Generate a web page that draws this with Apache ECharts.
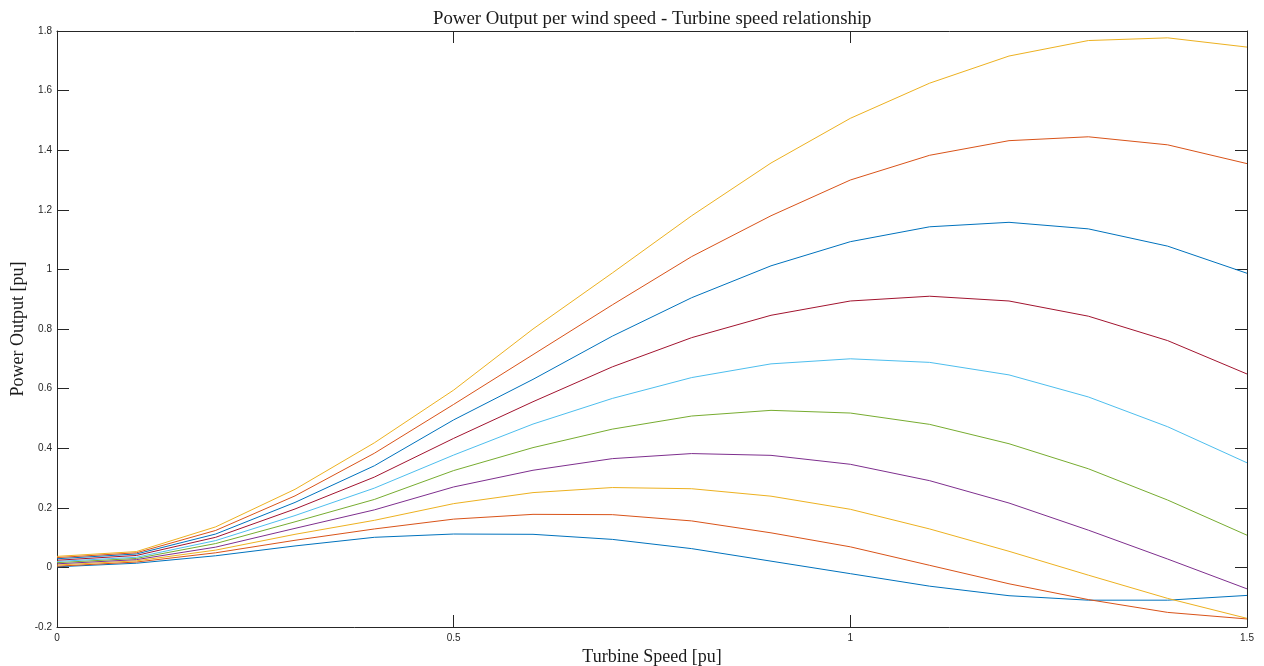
<!DOCTYPE html>
<html lang="en">
<head>
    <meta charset="UTF-8">
    <title>Power Output per wind speed</title>
    <script type="text/javascript" src="https://cdn.jsdelivr.net/npm/echarts@6/dist/echarts.min.js"></script>
    <style>
        html, body { margin: 0; padding: 0; background: #fff; }
        #chart { width: 1264px; height: 666px; }
    </style>
</head>
<body>
<div id="chart"></div>
<script type="text/javascript">
    // turbine speed (pu)
    var speeds = [0, 0.1, 0.2, 0.3, 0.4, 0.5, 0.6, 0.7, 0.8, 0.9, 1.0, 1.1, 1.2, 1.3, 1.4, 1.5];
    var yTicks = [-0.2, 0, 0.2, 0.4, 0.6, 0.8, 1, 1.2, 1.4, 1.6, 1.8];
    var xTicks = [0, 0.5, 1, 1.5];

    // power output (pu), one curve per wind speed, lowest first
    var p1 = [0.002, 0.014, 0.039, 0.072, 0.101, 0.112, 0.111, 0.094, 0.063, 0.021, -0.021, -0.063, -0.095, -0.110, -0.110, -0.094];
    var p2 = [0.004, 0.018, 0.049, 0.091, 0.129, 0.162, 0.178, 0.177, 0.156, 0.116, 0.069, 0.007, -0.055, -0.108, -0.151, -0.173];
    var p3 = [0.008, 0.022, 0.058, 0.111, 0.158, 0.214, 0.251, 0.268, 0.264, 0.239, 0.195, 0.129, 0.054, -0.026, -0.104, -0.171];
    var p4 = [0.012, 0.026, 0.068, 0.131, 0.193, 0.270, 0.326, 0.365, 0.382, 0.376, 0.346, 0.291, 0.216, 0.125, 0.028, -0.072];
    var p5 = [0.016, 0.030, 0.080, 0.153, 0.228, 0.325, 0.402, 0.464, 0.508, 0.527, 0.518, 0.480, 0.415, 0.331, 0.226, 0.108];
    var p6 = [0.020, 0.034, 0.090, 0.174, 0.266, 0.377, 0.481, 0.567, 0.637, 0.683, 0.700, 0.688, 0.646, 0.572, 0.472, 0.351];
    var p7 = [0.024, 0.040, 0.101, 0.196, 0.303, 0.433, 0.556, 0.673, 0.771, 0.846, 0.894, 0.910, 0.894, 0.843, 0.761, 0.649];
    var p8 = [0.029, 0.045, 0.112, 0.218, 0.341, 0.495, 0.631, 0.776, 0.905, 1.012, 1.093, 1.143, 1.158, 1.136, 1.078, 0.987];
    var p9 = [0.033, 0.049, 0.124, 0.240, 0.383, 0.547, 0.714, 0.881, 1.043, 1.180, 1.300, 1.383, 1.432, 1.445, 1.418, 1.355];
    var p10 = [0.037, 0.053, 0.136, 0.262, 0.418, 0.595, 0.800, 0.988, 1.180, 1.357, 1.507, 1.625, 1.716, 1.768, 1.777, 1.746];
    var curves = [p1, p2, p3, p4, p5, p6, p7, p8, p9, p10];

    var colors = ['#0072BD', '#D95319', '#EDB120', '#7E2F8E', '#77AC30', '#4DBEEE', '#A2142F'];

    var chart = echarts.init(document.getElementById('chart'));

    var series = curves.map(function (c, i) {
        return {
            type: 'line',
            xAxisIndex: 0,
            yAxisIndex: 0,
            showSymbol: false,
            animation: false,
            lineStyle: { width: 1, color: colors[i % colors.length] },
            data: speeds.map(function (s, k) { return [s, c[k]]; })
        };
    });

    var boxLine = { show: true, onZero: false, lineStyle: { color: '#262626', width: 1 } };
    var tickIn = { show: true, inside: true, length: 12, lineStyle: { color: '#262626', width: 1 } };
    var tickLabel = { color: '#262626', fontSize: 10, fontFamily: 'Liberation Sans, Arial, sans-serif' };
    var serifText = { fontFamily: 'Liberation Serif, serif', fontSize: 18, color: '#1a1a1a' };

    var option = {
        backgroundColor: '#ffffff',
        title: {
            text: 'Power Output per wind speed - Turbine speed relationship',
            left: 428,
            top: 5,
            textStyle: { fontFamily: 'Liberation Serif, serif', fontWeight: 'normal', fontSize: 18.8, color: '#1a1a1a' }
        },
        grid: { left: 57, right: 17, top: 31, bottom: 39, containLabel: false, outerBoundsMode: 'none' },
        xAxis: [{
            type: 'value',
            min: xTicks[0],
            max: xTicks[xTicks.length - 1],
            interval: 0.5,
            name: 'Turbine Speed [pu]',
            nameLocation: 'middle',
            nameGap: 21,
            nameMoveOverlap: false,
            nameTextStyle: serifText,
            axisLine: boxLine,
            axisTick: tickIn,
            axisLabel: Object.assign({ margin: 6 }, tickLabel),
            splitLine: { show: false }
        }, {
            type: 'value',
            position: 'top',
            min: xTicks[0],
            max: xTicks[xTicks.length - 1],
            interval: 0.5,
            axisLine: boxLine,
            axisTick: tickIn,
            axisLabel: { show: false },
            splitLine: { show: false }
        }],
        yAxis: [{
            type: 'value',
            min: yTicks[0],
            max: yTicks[yTicks.length - 1],
            interval: 0.2,
            name: 'Power Output [pu]',
            nameLocation: 'middle',
            nameGap: 30,
            nameMoveOverlap: false,
            nameTextStyle: serifText,
            axisLine: boxLine,
            axisTick: tickIn,
            axisLabel: Object.assign({ margin: 5 }, tickLabel),
            splitLine: { show: false }
        }, {
            type: 'value',
            position: 'right',
            min: yTicks[0],
            max: yTicks[yTicks.length - 1],
            interval: 0.2,
            axisLine: boxLine,
            axisTick: tickIn,
            axisLabel: { show: false },
            splitLine: { show: false }
        }],
        series: series
    };

    chart.setOption(option);
</script>
</body>
</html>
